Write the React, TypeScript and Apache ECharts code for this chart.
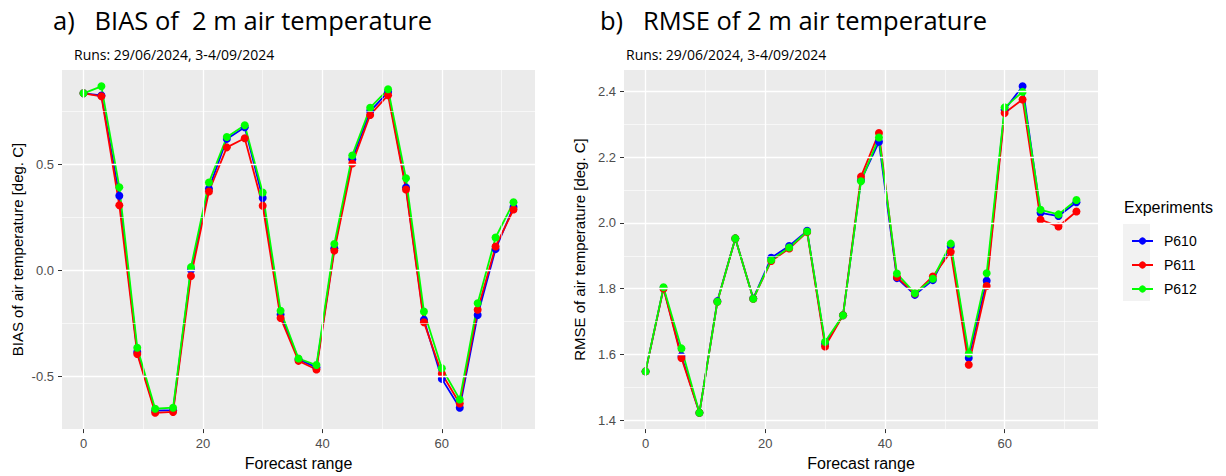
import React, { useEffect, useRef } from "react";
import * as echarts from "echarts";

const LEAD_HOURS = [0, 3, 6, 9, 12, 15, 18, 21, 24, 27, 30, 33, 36, 39, 42, 45, 48, 51, 54, 57, 60, 63, 66, 69, 72];
const EXPERIMENTS = ["P610", "P611", "P612"];
const COLORS = ["#0000ff", "#ff0000", "#00ff00"];

const BIAS_P610 = [0.835, 0.825, 0.352, -0.385, -0.662, -0.66, 0.003, 0.385, 0.62, 0.675, 0.341, -0.208, -0.42, -0.458, 0.104, 0.524, 0.75, 0.842, 0.391, -0.233, -0.512, -0.648, -0.211, 0.1, 0.299];
const BIAS_P611 = [0.835, 0.821, 0.307, -0.395, -0.672, -0.668, -0.027, 0.372, 0.58, 0.623, 0.305, -0.225, -0.427, -0.468, 0.093, 0.504, 0.733, 0.826, 0.381, -0.245, -0.488, -0.628, -0.186, 0.112, 0.287];
const BIAS_P612 = [0.835, 0.868, 0.392, -0.365, -0.653, -0.648, 0.015, 0.414, 0.629, 0.684, 0.367, -0.191, -0.416, -0.447, 0.124, 0.542, 0.767, 0.854, 0.434, -0.194, -0.462, -0.609, -0.155, 0.155, 0.321];

const RMSE_P610 = [1.548, 1.802, 1.595, 1.422, 1.762, 1.953, 1.77, 1.894, 1.93, 1.976, 1.632, 1.719, 2.13, 2.247, 1.832, 1.781, 1.826, 1.93, 1.589, 1.824, 2.345, 2.416, 2.031, 2.021, 2.063];
const RMSE_P611 = [1.548, 1.8, 1.589, 1.422, 1.76, 1.953, 1.769, 1.884, 1.922, 1.972, 1.624, 1.719, 2.141, 2.274, 1.835, 1.785, 1.837, 1.912, 1.568, 1.808, 2.335, 2.376, 2.01, 1.989, 2.035];
const RMSE_P612 = [1.548, 1.804, 1.618, 1.422, 1.76, 1.953, 1.769, 1.887, 1.925, 1.974, 1.638, 1.719, 2.127, 2.26, 1.846, 1.786, 1.83, 1.937, 1.602, 1.847, 2.352, 2.399, 2.04, 2.026, 2.07];

const X_MAJOR = [0, 20, 40, 60];
const X_MINOR = [10, 30, 50, 70];
const BIAS_MAJOR = [-0.5, 0, 0.5];
const BIAS_MINOR = [-0.25, 0.25, 0.75];
const RMSE_MAJOR = [1.4, 1.6, 1.8, 2.0, 2.2, 2.4];
const RMSE_MINOR = [1.5, 1.7, 1.9, 2.1, 2.3];

const TITLE_A = "a)   BIAS of  2 m air temperature";
const TITLE_B = "b)   RMSE of 2 m air temperature";
const SUBTITLE = "Runs: 29/06/2024, 3-4/09/2024";

const FONT = "Liberation Sans";
const TITLE_FONT = "Open Sans";

function expand(values: number[][]) {
  const all = values.flat();
  const lo = Math.min(...all);
  const hi = Math.max(...all);
  const pad = (hi - lo) * 0.05;
  return [lo - pad, hi + pad];
}

export default function App() {
  const ref = useRef<HTMLDivElement>(null);
  useEffect(() => {
    document.body.style.margin = "0";
    const chart = echarts.init(ref.current!, null, { renderer: "svg" });
    const xExt = expand([LEAD_HOURS]);
    const biasExt = expand([BIAS_P610, BIAS_P611, BIAS_P612]);
    const rmseExt = expand([RMSE_P610, RMSE_P611, RMSE_P612]);

    const xAxis = (gridIndex: number) => ({
      type: "value",
      gridIndex,
      min: xExt[0],
      max: xExt[1],
      name: "Forecast range",
      nameLocation: "middle",
      nameGap: 24,
      nameTextStyle: { fontFamily: FONT, fontSize: 16, color: "#000" },
      axisLine: { show: false, onZero: false },
      axisTick: { show: true, length: 4, customValues: X_MAJOR, lineStyle: { color: "#333", width: 1 } },
      axisLabel: { customValues: X_MAJOR, margin: 8, fontFamily: FONT, fontSize: 13, color: "#4d4d4d" },
      splitLine: { show: false },
    });
    const yAxis = (gridIndex: number, ext: number[], ticks: number[], name: string) => ({
      type: "value",
      gridIndex,
      min: ext[0],
      max: ext[1],
      name,
      nameLocation: "middle",
      nameGap: 37,
      nameTextStyle: { fontFamily: FONT, fontSize: 15, color: "#000" },
      axisLine: { show: false, onZero: false },
      axisTick: { show: true, length: 4, customValues: ticks, lineStyle: { color: "#333", width: 1 } },
      axisLabel: {
        customValues: ticks,
        margin: 8,
        fontFamily: FONT,
        fontSize: 13,
        color: "#4d4d4d",
        formatter: (v: number) => v.toFixed(1),
      },
      splitLine: { show: false },
    });

    const gridLines = (axisIndex: number, yMajor: number[], yMinor: number[]) => [
      {
        type: "line",
        name: "grid-minor",
        xAxisIndex: axisIndex,
        yAxisIndex: axisIndex,
        data: [],
        silent: true,
        z: 1,
        markLine: {
          silent: true,
          symbol: "none",
          animation: false,
          label: { show: false },
          emphasis: { disabled: true },
          lineStyle: { color: "#ffffff", width: 0.6, type: "solid" },
          data: [...X_MINOR.map((v) => ({ xAxis: v })), ...yMinor.map((v) => ({ yAxis: v }))],
        },
      },
      {
        type: "line",
        name: "grid-major",
        xAxisIndex: axisIndex,
        yAxisIndex: axisIndex,
        data: [],
        silent: true,
        z: 1,
        markLine: {
          silent: true,
          symbol: "none",
          animation: false,
          label: { show: false },
          emphasis: { disabled: true },
          lineStyle: { color: "#ffffff", width: 1.3, type: "solid" },
          data: [...X_MAJOR.map((v) => ({ xAxis: v })), ...yMajor.map((v) => ({ yAxis: v }))],
        },
      },
    ];

    const mkSeries = (name: string, color: string, values: number[], axisIndex: number) => ({
      type: "line",
      name,
      xAxisIndex: axisIndex,
      yAxisIndex: axisIndex,
      data: LEAD_HOURS.map((x, i) => [x, values[i]]),
      symbol: "circle",
      symbolSize: 8,
      showSymbol: true,
      itemStyle: { color },
      lineStyle: { color, width: 1.8 },
      emphasis: { disabled: true },
      z: 3,
    });

    const biasSets = [BIAS_P610, BIAS_P611, BIAS_P612];
    const rmseSets = [RMSE_P610, RMSE_P611, RMSE_P612];

    chart.setOption({
      animation: false,
      backgroundColor: "#ffffff",
      textStyle: { fontFamily: FONT },
      title: [
        { text: TITLE_A, left: 48, top: 2, textStyle: { fontFamily: TITLE_FONT, fontSize: 25.5, fontWeight: "normal", color: "#000" } },
        { text: SUBTITLE, left: 69, top: 42, textStyle: { fontFamily: TITLE_FONT, fontSize: 14, fontWeight: "normal", color: "#000" } },
        { text: TITLE_B, left: 595, top: 2, textStyle: { fontFamily: TITLE_FONT, fontSize: 25.5, fontWeight: "normal", color: "#000" } },
        { text: SUBTITLE, left: 621, top: 42, textStyle: { fontFamily: TITLE_FONT, fontSize: 14, fontWeight: "normal", color: "#000" } },
      ],
      grid: [
        { left: 62, top: 70, width: 473, height: 364, show: true, backgroundColor: "#ebebeb", borderWidth: 0 },
        { left: 624, top: 70, width: 474, height: 363, show: true, backgroundColor: "#ebebeb", borderWidth: 0 },
      ],
      xAxis: [xAxis(0), xAxis(1)],
      yAxis: [
        yAxis(0, biasExt, BIAS_MAJOR, "BIAS of air temperature [deg. C]"),
        yAxis(1, rmseExt, RMSE_MAJOR, "RMSE of air temperature [deg. C]"),
      ],
      graphic: [
        {
          type: "text",
          left: 1124,
          top: 199,
          style: { text: "Experiments", fontFamily: FONT, fontSize: 16, fill: "#000" },
        },
        {
          type: "rect",
          shape: { x: 1123, y: 224, width: 27, height: 77 },
          style: { fill: "#f2f2f2" },
          z: -1,
        },
      ],
      legend: {
        orient: "vertical",
        left: 1126,
        top: 229,
        itemWidth: 21,
        itemHeight: 9,
        itemGap: 10,
        data: EXPERIMENTS,
        textStyle: { fontFamily: FONT, fontSize: 14, color: "#000", padding: [0, 0, 0, 6] },
      },
      series: [
        ...gridLines(0, BIAS_MAJOR, BIAS_MINOR),
        ...gridLines(1, RMSE_MAJOR, RMSE_MINOR),
        ...EXPERIMENTS.map((n, i) => mkSeries(n, COLORS[i], biasSets[i], 0)),
        ...EXPERIMENTS.map((n, i) => mkSeries(n, COLORS[i], rmseSets[i], 1)),
      ],
    });
    return () => chart.dispose();
  }, []);
  return (
    <div
      ref={ref}
      style={{ position: "fixed", left: 0, top: 0, width: 1226, height: 476, background: "#fff" }}
    />
  );
}
